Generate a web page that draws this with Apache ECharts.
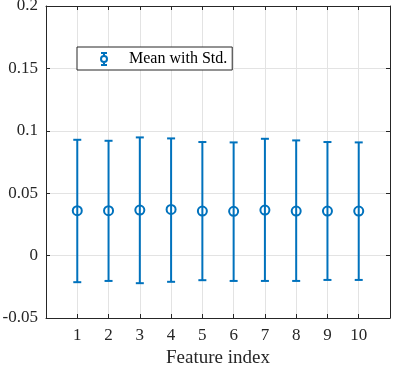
<!DOCTYPE html>
<html>
<head>
<meta charset="utf-8">
<script src="https://cdn.jsdelivr.net/npm/echarts@6/dist/echarts.min.js"></script>
<style>
  html, body { margin: 0; padding: 0; background: #ffffff; }
  #chart { width: 395px; height: 367px; }
</style>
</head>
<body>
<div id="chart"></div>
<script>
// feature indices and the mean / std band
var features = [1, 2, 3, 4, 5, 6, 7, 8, 9, 10];
var means = [0.036, 0.036, 0.0365, 0.037, 0.0357, 0.0355, 0.0365, 0.0357, 0.0357, 0.0357];
var upper = [0.0928, 0.092, 0.0947, 0.0939, 0.091, 0.0907, 0.0936, 0.0923, 0.091, 0.0907];
var lower = [-0.0213, -0.0203, -0.0221, -0.021, -0.0197, -0.0203, -0.0203, -0.0203, -0.0195, -0.0195];
var yTicks = [-0.05, 0, 0.05, 0.1, 0.15, 0.2];

var blue = '#0072BD';
var axisCol = '#262626';
var font = 'Liberation Serif';

var meanData = features.map(function (f, i) { return [f, means[i]]; });
var barData = features.map(function (f, i) { return [f, lower[i], upper[i]]; });

var myChart = echarts.init(document.getElementById('chart'));

var tickLabel = function (v) {
  // matlab style: 0.1 not 0.10, -0.05 etc
  for (var i = 0; i < yTicks.length; i++) {
    if (Math.abs(v - yTicks[i]) < 1e-9) return String(yTicks[i]);
  }
  return '';
};

var option = {
  animation: false,
  grid: { left: 46, right: 5, top: 6, bottom: 49, outerBoundsMode: 'none' },
  legend: {
    left: 77,
    top: 47,
    orient: 'horizontal',
    padding: [4, 5, 3, 23],
    itemWidth: 40,
    itemHeight: 12,
    backgroundColor: '#ffffff',
    borderColor: axisCol,
    borderWidth: 1,
    borderRadius: 0,
    itemStyle: { color: 'transparent', borderColor: blue, borderWidth: 2 },
    textStyle: { fontFamily: font, fontSize: 16, color: '#000' },
    data: [{
      name: 'Mean with Std.',
      icon: 'path://M1,0 L7,0 M4,0 L4,3 M4,9 L4,12 M1,12 L7,12 M4,3 A3,3 0 1 1 4,9 A3,3 0 1 1 4,3'
    }]
  },
  xAxis: [
    {
      type: 'value',
      min: 0,
      max: 11,
      interval: 1,
      name: 'Feature index',
      nameLocation: 'middle',
      nameGap: 30,
      nameTextStyle: { fontFamily: font, fontSize: 19, color: axisCol },
      axisLine: { onZero: false, lineStyle: { color: axisCol, width: 1 } },
      axisTick: { inside: true, length: 4, lineStyle: { color: axisCol } },
      axisLabel: {
        margin: 9,
        fontFamily: font,
        fontSize: 17,
        color: axisCol,
        formatter: function (v) { return (v >= 1 && v <= 10) ? String(v) : ''; }
      },
      splitLine: { show: true, lineStyle: { color: '#e3e3e3', width: 1 } }
    },
    {
      type: 'value',
      position: 'top',
      min: 0,
      max: 11,
      interval: 1,
      axisLine: { onZero: false, lineStyle: { color: axisCol, width: 1 } },
      axisTick: { inside: true, length: 4, lineStyle: { color: axisCol } },
      axisLabel: { show: false },
      splitLine: { show: false }
    }
  ],
  yAxis: [
    {
      type: 'value',
      min: -0.05,
      max: 0.2,
      interval: 0.05,
      axisLine: { show: true, onZero: false, lineStyle: { color: axisCol, width: 1 } },
      axisTick: { show: true, inside: true, length: 4, lineStyle: { color: axisCol } },
      axisLabel: {
        margin: 8,
        fontFamily: font,
        fontSize: 17,
        color: axisCol,
        formatter: tickLabel
      },
      splitLine: { show: true, lineStyle: { color: '#e3e3e3', width: 1 } }
    },
    {
      type: 'value',
      position: 'right',
      min: -0.05,
      max: 0.2,
      interval: 0.05,
      axisLine: { show: true, onZero: false, lineStyle: { color: axisCol, width: 1 } },
      axisTick: { show: true, inside: true, length: 4, lineStyle: { color: axisCol } },
      axisLabel: { show: false },
      splitLine: { show: false }
    }
  ],
  series: [
    {
      name: 'Mean with Std.',
      type: 'custom',
      xAxisIndex: 0,
      yAxisIndex: 0,
      data: barData,
      renderItem: function (params, api) {
        var x = api.value(0);
        var lo = api.coord([x, api.value(1)]);
        var hi = api.coord([x, api.value(2)]);
        var cap = 4;
        var style = { stroke: blue, lineWidth: 2 };
        return {
          type: 'group',
          children: [
            { type: 'line', shape: { x1: hi[0], y1: hi[1], x2: lo[0], y2: lo[1] }, style: style },
            { type: 'line', shape: { x1: hi[0] - cap, y1: hi[1], x2: hi[0] + cap, y2: hi[1] }, style: style },
            { type: 'line', shape: { x1: lo[0] - cap, y1: lo[1], x2: lo[0] + cap, y2: lo[1] }, style: style }
          ]
        };
      },
      z: 2
    },
    {
      name: 'Mean with Std.',
      type: 'scatter',
      xAxisIndex: 0,
      yAxisIndex: 0,
      data: meanData,
      symbol: 'circle',
      symbolSize: 9,
      itemStyle: { color: 'transparent', borderColor: blue, borderWidth: 2, opacity: 1 },
      z: 3
    }
  ]
};

myChart.setOption(option);
</script>
</body>
</html>
